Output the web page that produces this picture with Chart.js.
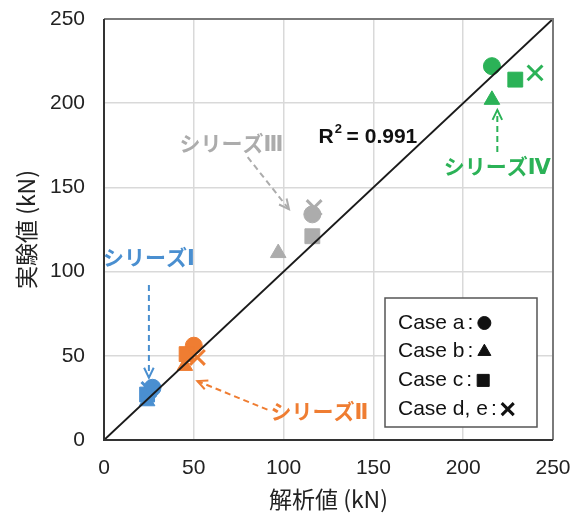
<!DOCTYPE html>
<html>
<head>
<meta charset="utf-8">
<script src="https://cdn.jsdelivr.net/npm/chart.js@4/dist/chart.umd.min.js"></script>
<style>
  html, body { margin: 0; padding: 0; background: #fff; }
  #wrap { width: 579px; height: 516px; }
</style>
</head>
<body>
<div id="wrap"><canvas id="chart" width="579" height="516"></canvas></div>
<script>
// case order: a (circle), b (triangle), c (square), d/e (cross)
const caseLabels = ['Case a', 'Case b', 'Case c', 'Case d, e'];
const caseStyles = ['circle', 'triangle', 'rect', 'crossRot'];

const seriesNames = ['シリーズⅠ', 'シリーズⅡ', 'シリーズⅢ', 'シリーズⅣ'];
const seriesColors = ['#4a8fd0', '#ef7d32', '#acacac', '#2bb257'];

const s1X = [27, 24, 24, 25];
const s1Y = [31, 23, 27, 30];
const s2X = [50, 45, 46, 52];
const s2Y = [56, 44, 51, 49];
const s3X = [116, 97, 116, 117];
const s3Y = [134, 111, 121, 138];
const s4X = [216, 216, 229, 240];
const s4Y = [222, 202, 214, 218];

const xTicks = [0, 50, 100, 150, 200, 250];
const yTicks = [0, 50, 100, 150, 200, 250];
const r2 = 0.991;

// labels and arrows: [textX, textY, arrowFromX, arrowFromY, arrowToX, arrowToY]
const seriesNotes = [
  [25, 107, 25, 92, 25, 37],
  [120, 16, 91, 18, 52, 35],
  [71, 175, 80, 168, 103, 137],
  [219, 161, 219, 171, 219, 196]
];

const allX = [s1X, s2X, s3X, s4X];
const allY = [s1Y, s2Y, s3Y, s4Y];
const radii = [8.5, 9, 10.5, 10.5];

const datasets = allX.map((xs, i) => ({
  label: seriesNames[i],
  data: xs.map((x, j) => ({ x: x, y: allY[i][j] })),
  pointStyle: caseStyles,
  radius: radii,
  hoverRadius: radii,
  backgroundColor: seriesColors[i],
  borderColor: seriesColors[i],
  borderWidth: [1, 1, 1, 3],
  showLine: false,
  order: 1
}));

datasets.push({
  label: 'fit',
  type: 'line',
  data: [{ x: 0, y: 0 }, { x: 250, y: 250 }],
  borderColor: '#1a1a1a',
  borderWidth: 2,
  pointRadius: 0,
  fill: false,
  order: 0
});

const SANS = '"Liberation Sans", Arial, sans-serif';
const JP = '"DejaVu Sans", "Noto Sans CJK JP", sans-serif';
const JPT = '"Noto Sans CJK JP", "Noto Sans", sans-serif';

function drawArrow(ctx, x1, y1, x2, y2, color) {
  ctx.save();
  ctx.strokeStyle = color;
  ctx.lineWidth = 2;
  ctx.setLineDash([6, 4]);
  ctx.beginPath();
  ctx.moveTo(x1, y1);
  ctx.lineTo(x2, y2);
  ctx.stroke();
  ctx.setLineDash([]);
  const a = Math.atan2(y2 - y1, x2 - x1);
  const len = 11;
  ctx.beginPath();
  ctx.moveTo(x2 - len * Math.cos(a - 0.45), y2 - len * Math.sin(a - 0.45));
  ctx.lineTo(x2, y2);
  ctx.lineTo(x2 - len * Math.cos(a + 0.45), y2 - len * Math.sin(a + 0.45));
  ctx.stroke();
  ctx.restore();
}

const notesPlugin = {
  id: 'notes',
  afterDatasetsDraw(chart) {
    const ctx = chart.ctx;
    const xs = chart.scales.x, ys = chart.scales.y;
    const area = chart.chartArea;

    // frame
    ctx.save();
    ctx.strokeStyle = '#7a7a7a';
    ctx.lineWidth = 2;
    ctx.beginPath();
    ctx.moveTo(area.left, area.top);
    ctx.lineTo(area.right, area.top);
    ctx.lineTo(area.right, area.bottom);
    ctx.stroke();
    ctx.strokeStyle = '#333';
    ctx.beginPath();
    ctx.moveTo(area.left, area.top);
    ctx.lineTo(area.left, area.bottom);
    ctx.lineTo(area.right, area.bottom);
    ctx.stroke();
    ctx.restore();

    seriesNotes.forEach((n, i) => {
      drawArrow(ctx, xs.getPixelForValue(n[2]), ys.getPixelForValue(n[3]),
        xs.getPixelForValue(n[4]), ys.getPixelForValue(n[5]), seriesColors[i]);
      ctx.save();
      ctx.fillStyle = seriesColors[i];
      ctx.font = 'bold 21px ' + JP;
      ctx.textAlign = 'center';
      ctx.textBaseline = 'middle';
      ctx.fillText(seriesNames[i], xs.getPixelForValue(n[0]), ys.getPixelForValue(n[1]));
      ctx.restore();
    });

    // R² label
    ctx.save();
    ctx.fillStyle = '#111';
    ctx.textBaseline = 'middle';
    const rx = xs.getPixelForValue(119.5), ry = ys.getPixelForValue(180);
    ctx.font = 'bold 21px ' + SANS;
    ctx.fillText('R', rx, ry);
    const rw = ctx.measureText('R').width;
    ctx.font = 'bold 13px ' + SANS;
    ctx.fillText('2', rx + rw + 1, ry - 7);
    ctx.font = 'bold 21px ' + SANS;
    ctx.fillText(' = ' + r2.toFixed(3), rx + rw + 7, ry);
    ctx.restore();

    // case legend box
    const bx = 385, by = 298, bw = 152, bh = 129;
    ctx.save();
    ctx.fillStyle = '#fff';
    ctx.fillRect(bx, by, bw, bh);
    ctx.strokeStyle = '#555';
    ctx.lineWidth = 1.5;
    ctx.strokeRect(bx, by, bw, bh);
    ctx.fillStyle = '#111';
    ctx.strokeStyle = '#111';
    ctx.font = '21px ' + SANS;
    ctx.textBaseline = 'middle';
    caseLabels.forEach((lab, i) => {
      const y = by + 25 + i * 28.7;
      ctx.fillText(lab, bx + 13, y);
      const w = ctx.measureText(lab).width;
      ctx.fillText(':', bx + 13 + w + 3, y);
      const cx = bx + 13 + w + 3 + ctx.measureText(':').width + 11;
      const st = caseStyles[i];
      const r = st === 'circle' ? 6.5 : (st === 'triangle' ? 7.5 : 8.5);
      const bwid = st === 'crossRot' ? 3 : 1;
      ctx.lineWidth = bwid;
      Chart.helpers.drawPoint(ctx, { pointStyle: st, radius: r, borderWidth: bwid }, cx, y);
    });
    ctx.restore();
  }
};

const noPad = s => { s.paddingTop = 0; s.paddingBottom = 0; s.paddingLeft = 0; s.paddingRight = 0; };

new Chart(document.getElementById('chart'), {
  type: 'scatter',
  data: { datasets: datasets },
  options: {
    responsive: false,
    animation: false,
    layout: { padding: { left: 8, right: 26, top: 19, bottom: 0 } },
    plugins: { legend: { display: false }, tooltip: { enabled: false } },
    scales: {
      x: {
        type: 'linear', min: 0, max: 250,
        afterBuildTicks: s => { s.ticks = xTicks.map(v => ({ value: v })); },
        afterFit: s => { s.height = 76; noPad(s); },
        grid: { color: '#d9d9d9', lineWidth: 1.5, drawTicks: false },
        border: { display: false },
        ticks: { color: '#222', padding: 16, font: { family: SANS, size: 21 } },
        title: { display: true, text: '解析値 (kN)', color: '#222', padding: { top: 0 }, font: { family: JPT, size: 23, lineHeight: 1.1 } }
      },
      y: {
        type: 'linear', min: 0, max: 250,
        afterBuildTicks: s => { s.ticks = yTicks.map(v => ({ value: v })); },
        afterFit: s => { s.width = 96; noPad(s); },
        grid: { color: '#d9d9d9', lineWidth: 1.5, drawTicks: false },
        border: { display: false },
        ticks: { color: '#222', padding: 19, font: { family: SANS, size: 21 } },
        title: { display: true, text: '実験値 (kN)', color: '#222', padding: { bottom: 0 }, font: { family: JPT, size: 23 } }
      }
    }
  },
  plugins: [notesPlugin]
});
</script>
</body>
</html>
